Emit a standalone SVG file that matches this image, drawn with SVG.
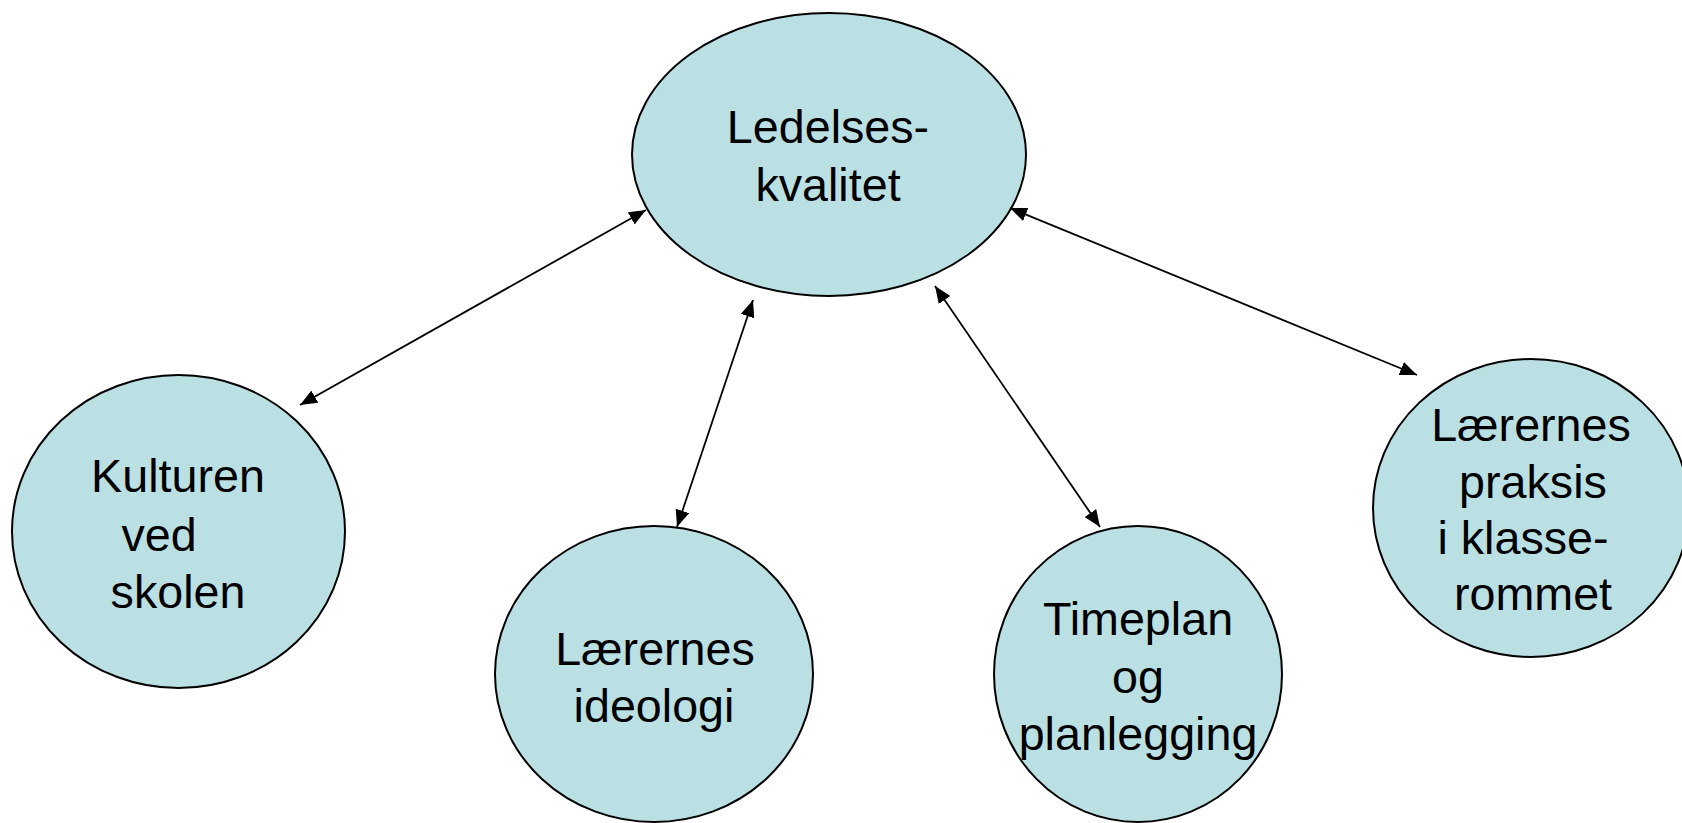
<svg xmlns="http://www.w3.org/2000/svg" width="1682" height="823" viewBox="0 0 1682 823">
<style>
.node ellipse{fill:#BBE0E3;stroke:#000;stroke-width:2}
.node text{font-family:"Liberation Sans",Arial,sans-serif;font-size:46.67px;fill:#000;text-anchor:middle}
.conn line{stroke:#000;stroke-width:1.8;marker-start:url(#ah);marker-end:url(#ah)}
</style>
<defs>
<marker id="ah" markerUnits="userSpaceOnUse" markerWidth="18" markerHeight="14" refX="17" refY="7" orient="auto-start-reverse" viewBox="0 0 18 14">
<path d="M0,0 L17,7 L0,14 z" fill="#000"/>
</marker>
</defs>
<rect width="1682" height="823" fill="#fff"/>
<g id="n-ledelse" class="node">
<ellipse cx="829" cy="154.5" rx="197" ry="141.5"/>
<text x="828" y="143">Ledelses-</text>
<text x="828" y="201">kvalitet</text>
</g>
<g id="n-kultur" class="node">
<ellipse cx="178.5" cy="531.5" rx="166.5" ry="156.5"/>
<text x="178" y="492">Kulturen</text>
<text x="159" y="551">ved</text>
<text x="178" y="608">skolen</text>
</g>
<g id="n-ideologi" class="node">
<ellipse cx="654" cy="674" rx="159" ry="148"/>
<text x="655" y="665">Lærernes</text>
<text x="654" y="722">ideologi</text>
</g>
<g id="n-timeplan" class="node">
<ellipse cx="1138" cy="674" rx="144" ry="148"/>
<text x="1138" y="635">Timeplan</text>
<text x="1138" y="693">og</text>
<text x="1138" y="750">planlegging</text>
</g>
<g id="n-praksis" class="node">
<ellipse cx="1531" cy="508" rx="158" ry="149"/>
<text x="1531" y="441">Lærernes</text>
<text x="1533" y="498">praksis</text>
<text x="1523" y="554">i klasse-</text>
<text x="1533" y="610">rommet</text>
</g>
<g id="connectors" class="conn">
<line x1="300" y1="405" x2="646" y2="210"/>
<line x1="677" y1="527" x2="753" y2="300"/>
<line x1="1100" y1="527" x2="935" y2="286"/>
<line x1="1417" y1="375" x2="1010" y2="208"/>
</g>
</svg>
